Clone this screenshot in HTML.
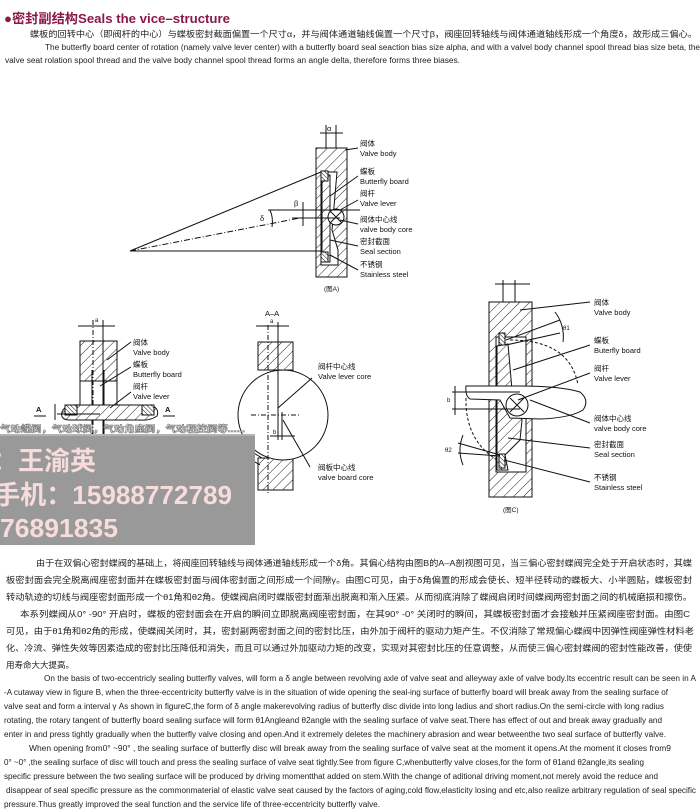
<!DOCTYPE html>
<html><head><meta charset="utf-8"><style>
html,body{margin:0;padding:0;background:#fff;}
svg{display:block;}
</style></head><body>
<svg width="700" height="810" viewBox="0 0 700 810" xmlns="http://www.w3.org/2000/svg" font-family="'Liberation Sans','Noto Sans CJK SC',sans-serif">
<defs>
<pattern id="h" width="7" height="7" patternUnits="userSpaceOnUse" patternTransform="rotate(45)">
<rect width="7" height="7" fill="#fff"/><line x1="0" y1="0" x2="0" y2="7" stroke="#222" stroke-width="1"/>
</pattern>
<pattern id="hs" width="3" height="3" patternUnits="userSpaceOnUse" patternTransform="rotate(-45)">
<rect width="3" height="3" fill="#fff"/><line x1="0" y1="0" x2="0" y2="3" stroke="#111" stroke-width="1"/>
</pattern>
</defs>

<!-- Header -->
<text x="4" y="23" font-size="13" font-weight="bold" fill="#8a1848" textLength="226" lengthAdjust="spacingAndGlyphs">●密封副结构Seals the vice–structure</text>
<text x="30" y="37" font-size="8.5" fill="#222" textLength="667" lengthAdjust="spacingAndGlyphs">蝶板的回转中心（即阀杆的中心）与蝶板密封截面偏置一个尺寸α，并与阀体通道轴线偏置一个尺寸β，阀座回转轴线与阀体通道轴线形成一个角度δ，故形成三偏心。</text>
<text x="45" y="50" font-size="8" fill="#222" textLength="655" lengthAdjust="spacingAndGlyphs">The butterfly board center of rotation (namely valve lever center) with a butterfly board seal seaction bias size alpha, and with a valvel body channel spool thread bias size beta, the</text>
<text x="5" y="63" font-size="8" fill="#222" textLength="455" lengthAdjust="spacingAndGlyphs">valve seat rolation spool thread and the valve body channel spool thread forms an angle delta, therefore forms three biases.</text>

<g stroke="#111" fill="none" stroke-width="1">
<!-- Figure A -->
<rect x="316" y="148" width="31" height="129" fill="url(#h)"/>
<path d="M321 172 L337 172 L332 230 L338 250 L338 265 L321 265 Z" fill="#fff"/>
<path d="M322 175 L330 175 L330 262 L322 262 Z" fill="url(#h)"/>
<rect x="321" y="171" width="7" height="10" fill="url(#hs)"/>
<rect x="321" y="252" width="7" height="10" fill="url(#hs)"/>
<circle cx="336" cy="217" r="8" fill="#fff"/>
<path d="M330 211 L342 223 M342 211 L330 223"/>
<line x1="326" y1="125" x2="326" y2="148"/><line x1="336" y1="125" x2="336" y2="148"/>
<line x1="320" y1="133" x2="343" y2="133"/>
<line x1="130" y1="251" x2="321" y2="172"/>
<line x1="130" y1="251" x2="321" y2="251"/>
<line x1="130" y1="251" x2="300" y2="218" stroke-dasharray="6 2 1 2"/>
<line x1="268" y1="210" x2="360" y2="210"/>
<line x1="292" y1="218" x2="340" y2="218"/>
<line x1="303" y1="202" x2="303" y2="226"/>
<path d="M270 210 A30 30 0 0 1 272 227"/>
<line x1="345" y1="150" x2="358" y2="148"/>
<line x1="330" y1="196" x2="358" y2="176"/>
<line x1="340" y1="210" x2="358" y2="200"/>
<line x1="340" y1="220" x2="358" y2="224"/>
<line x1="330" y1="240" x2="358" y2="246"/>
<line x1="330" y1="255" x2="358" y2="270"/>

<!-- Figure B -->
<rect x="80" y="341" width="37" height="40" fill="url(#h)"/>
<line x1="80" y1="341" x2="80" y2="405"/><line x1="117" y1="341" x2="117" y2="405"/>
<line x1="92" y1="370" x2="92" y2="490"/><line x1="104" y1="370" x2="104" y2="490"/>
<line x1="93" y1="320" x2="93" y2="500" stroke-dasharray="5 2 1 2"/>
<line x1="103" y1="320" x2="103" y2="490"/>
<line x1="78" y1="326" x2="115" y2="326"/>
<path d="M62 412 Q65 404 80 405 L150 405 Q160 408 157 416 Q150 421 140 420 L70 420 Q60 420 62 412 Z" fill="url(#h)"/>
<rect x="65" y="405" width="12" height="10" fill="url(#hs)"/>
<rect x="142" y="405" width="12" height="10" fill="url(#hs)"/>
<line x1="57" y1="414" x2="100" y2="414"/>
<line x1="55" y1="404" x2="55" y2="420"/>
<line x1="82" y1="460" x2="115" y2="460"/><line x1="82" y1="460" x2="82" y2="490"/>
<line x1="115" y1="460" x2="115" y2="490"/>
<line x1="107" y1="360" x2="131" y2="342"/>
<line x1="100" y1="386" x2="131" y2="367"/>
<line x1="110" y1="408" x2="131" y2="392"/>
<line x1="34" y1="416" x2="46" y2="416"/><line x1="163" y1="416" x2="175" y2="416"/>

<!-- Figure A-A -->
<rect x="258" y="342" width="35" height="28" fill="url(#h)"/>
<rect x="258" y="458" width="35" height="32" fill="url(#h)"/>
<circle cx="283" cy="415" r="45" fill="#fff"/>
<line x1="268" y1="325" x2="268" y2="495" stroke-dasharray="5 2 1 2"/>
<line x1="278" y1="322" x2="278" y2="440"/>
<line x1="256" y1="326" x2="289" y2="326"/>
<line x1="251" y1="415" x2="300" y2="415" stroke-dasharray="5 2 1 2"/>
<line x1="282" y1="412" x2="282" y2="440"/>
<line x1="270" y1="436" x2="295" y2="436"/>
<line x1="278" y1="408" x2="312" y2="378"/>
<line x1="283" y1="420" x2="310" y2="467"/>
<line x1="232" y1="440" x2="262" y2="458"/><line x1="230" y1="447" x2="260" y2="465"/>

<!-- Figure C -->
<rect x="489" y="302" width="43" height="195" fill="url(#h)"/>
<rect x="496" y="337" width="30" height="135" fill="#fff"/>
<path d="M497 346 L508 344 L512 390 L522 420 L520 440 L505 455 L508 470 L497 470 Z" fill="url(#h)"/>
<rect x="499" y="333" width="6" height="12" fill="url(#hs)"/>
<rect x="499" y="454" width="6" height="14" fill="url(#hs)"/>
<path d="M466 386 Q465 396 470 399 L500 400 L510 418 L540 419 Q570 418 583 410 Q590 400 580 392 Q560 386 520 386 Z" fill="#fff"/>
<circle cx="517" cy="405" r="11" fill="#fff"/>
<path d="M510 398 L524 412 M524 398 L510 412"/>
<line x1="503" y1="280" x2="503" y2="302"/><line x1="515" y1="280" x2="515" y2="302"/>
<line x1="495" y1="284" x2="530" y2="284"/>
<line x1="452" y1="392" x2="520" y2="392"/><line x1="452" y1="409" x2="520" y2="409"/>
<line x1="455" y1="386" x2="455" y2="415"/>
<path d="M510 340 Q570 340 578 385" stroke-dasharray="3 2"/>
<path d="M466 398 Q465 440 497 460" stroke-dasharray="3 2"/>
<line x1="506" y1="340" x2="560" y2="320"/><line x1="506" y1="345" x2="560" y2="333"/>
<path d="M555 312 A40 40 0 0 1 563 342"/>
<line x1="458" y1="443" x2="500" y2="455"/><line x1="458" y1="453" x2="500" y2="456"/>
<path d="M463 435 A40 40 0 0 0 463 465"/>
<line x1="520" y1="310" x2="590" y2="302"/>
<line x1="513" y1="370" x2="590" y2="345"/>
<line x1="518" y1="400" x2="590" y2="373"/>
<line x1="530" y1="400" x2="590" y2="423"/>
<line x1="508" y1="438" x2="590" y2="448"/>
<line x1="504" y1="460" x2="590" y2="482"/>
</g>

<g font-size="7.5" fill="#111">
<text x="327" y="131">α</text>
<text x="360" y="146">阀体</text><text x="360" y="156">Valve body</text>
<text x="360" y="174">蝶板</text><text x="360" y="184">Butterfly board</text>
<text x="360" y="196">阀杆</text><text x="360" y="206">Valve lever</text>
<text x="360" y="222">阀体中心线</text><text x="360" y="232">valve body core</text>
<text x="360" y="244">密封截面</text><text x="360" y="254">Seal section</text>
<text x="360" y="267">不锈钢</text><text x="360" y="277">Stainless steel</text>
<text x="294" y="206">β</text><text x="260" y="221">δ</text>
<text x="324" y="291" font-size="6.5">(图A)</text>

<text x="95" y="322" font-size="6">a</text>
<text x="133" y="345">阀体</text><text x="133" y="355">Valve body</text>
<text x="133" y="367">蝶板</text><text x="133" y="377">Butterfly board</text>
<text x="133" y="389">阀杆</text><text x="133" y="399">Valve lever</text>
<text x="135" y="443">阀体中心线</text><text x="135" y="453">valve body core</text>
<text x="138" y="471">密封截面</text><text x="138" y="481">Seal section</text>
<text x="36" y="412" font-weight="bold">A</text><text x="165" y="412" font-weight="bold">A</text>

<text x="265" y="316">A–A</text>
<text x="270" y="323" font-size="6">a</text>
<text x="273" y="434" font-size="6">b</text>
<text x="221" y="459" font-size="6">γ</text>
<text x="318" y="369">阀杆中心线</text><text x="318" y="379">Valve lever core</text>
<text x="318" y="470">阀板中心线</text><text x="318" y="480">valve board core</text>

<text x="594" y="305">阀体</text><text x="594" y="315">Valve body</text>
<text x="594" y="343">蝶板</text><text x="594" y="353">Buterfly board</text>
<text x="594" y="371">阀杆</text><text x="594" y="381">Valve lever</text>
<text x="594" y="421">阀体中心线</text><text x="594" y="431">valve body core</text>
<text x="594" y="447">密封截面</text><text x="594" y="457">Seal section</text>
<text x="594" y="480">不锈钢</text><text x="594" y="490">Stainless steel</text>
<text x="563" y="330" font-size="6">θ1</text>
<text x="445" y="452" font-size="6">θ2</text>
<text x="447" y="402" font-size="6">b</text>
<text x="503" y="512" font-size="6.5">(图C)</text>
</g>

<!-- watermark -->
<text x="0" y="432" font-size="9" font-weight="bold" fill="#fff" stroke="#777" stroke-width="0.6" textLength="245" lengthAdjust="spacingAndGlyphs">气动蝶阀，气动球阀，气动角座阀，气动程控阀等......</text>
<rect x="0" y="434" width="255" height="111" fill="#999"/>
<line x1="0" y1="435" x2="255" y2="435" stroke="#ccc" stroke-width="1"/>
<g font-weight="bold" font-size="26" fill="#f8dcdc">
<text x="-8" y="470">：王渝英</text>
<text x="-6" y="504" textLength="238" lengthAdjust="spacingAndGlyphs">手机：15988772789</text>
<text x="0" y="537" textLength="118" lengthAdjust="spacingAndGlyphs">76891835</text>
</g>

<!-- Chinese paragraph -->
<g font-size="8.5" fill="#222">
<text x="36" y="566" textLength="656" lengthAdjust="spacingAndGlyphs">由于在双偏心密封蝶阀的基础上，将阀座回转轴线与阀体通道轴线形成一个δ角。其偏心结构由图B的A–A剖视图可见，当三偏心密封蝶阀完全处于开启状态时，其蝶</text>
<text x="6" y="583" textLength="686" lengthAdjust="spacingAndGlyphs">板密封面会完全脱离阀座密封面并在蝶板密封面与阀体密封面之间形成一个间隙γ。由图C可见，由于δ角偏置的形成会使长、短半径转动的蝶板大、小半圆贴，蝶板密封</text>
<text x="6" y="600" textLength="686" lengthAdjust="spacingAndGlyphs">转动轨迹的切线与阀座密封面形成一个θ1角和θ2角。使蝶阀启闭时蝶版密封面渐出脱离和渐入压紧。从而彻底消除了蝶阀启闭时间蝶阀两密封面之间的机械磨损和擦伤。</text>
<text x="20" y="617" textLength="670" lengthAdjust="spacingAndGlyphs">本系列蝶阀从0° -90° 开启时，蝶板的密封面会在开启的瞬间立即脱离阀座密封面，在其90° -0° 关闭时的瞬间，其蝶板密封面才会接触并压紧阀座密封面。由图C</text>
<text x="6" y="634" textLength="688" lengthAdjust="spacingAndGlyphs">可见，由于θ1角和θ2角的形成，使蝶阀关闭时，其，密封副两密封面之间的密封比压，由外加于阀杆的驱动力矩产生。不仅消除了常规偏心蝶阀中因弹性阀座弹性材料老</text>
<text x="6" y="651" textLength="686" lengthAdjust="spacingAndGlyphs">化、冷流、弹性失效等因素造成的密封比压降低和消失，而且可以通过外加驱动力矩的改变，实现对其密封比压的任意调整，从而使三偏心密封蝶阀的密封性能改善，使使</text>
<text x="6" y="668">用寿命大大提高。</text>
</g>

<!-- English paragraph -->
<g font-size="8" fill="#222">
<text x="44" y="681" textLength="652" lengthAdjust="spacingAndGlyphs">On the basis of two-eccentricly sealing butterfly valves, will form a δ angle between revolving axle of valve seat and alleyway axle of valve body.Its eccentric result can be seen in A</text>
<text x="4" y="695" textLength="664" lengthAdjust="spacingAndGlyphs">-A cutaway view in figure B, when the three-eccentricity butterfly valve is in the situation of wide opening the seal-ing surface of butterfly board will break away from the sealing surface of</text>
<text x="4" y="709" textLength="660" lengthAdjust="spacingAndGlyphs">valve seat and form a interval γ As shown in figureC,the form of δ angle makerevolving radius of butterfly disc divide into long ladius and short radius.On the semi-circle with long radius</text>
<text x="4" y="723" textLength="658" lengthAdjust="spacingAndGlyphs">rotating, the rotary tangent of butterfly board sealing surface will form θ1Angleand θ2angle with the sealing surface of valve seat.There has effect of out and break away gradually and</text>
<text x="4" y="737" textLength="662" lengthAdjust="spacingAndGlyphs">enter in and press tightly gradually when the butterfly valve closing and open.And it extremely deletes the machinery abrasion and wear betweenthe two seal surface of butterfly valve.</text>
<text x="29" y="751" textLength="642" lengthAdjust="spacingAndGlyphs">When opening from0° ~90° , the sealing surface of butterfly disc will break away from the sealing surface of valve seat at the moment it opens.At the moment it closes from9</text>
<text x="4" y="765" textLength="640" lengthAdjust="spacingAndGlyphs">0° ~0° ,the sealing surface of disc will touch and press the sealing surface of valve seat tightly.See from figure C,whenbutterfly valve closes,for the form of θ1and θ2angle,its sealing</text>
<text x="4" y="779" textLength="654" lengthAdjust="spacingAndGlyphs">specific pressure between the two sealing surface will be produced by driving momentthat added on stem.With the change of aditional driving moment,not merely avoid the reduce and</text>
<text x="6" y="793" textLength="690" lengthAdjust="spacingAndGlyphs">disappear of seal specific pressure as the commonmaterial of elastic valve seat caused by the factors of aging,cold flow,elasticity losing and etc,also realize arbitrary regulation of seal specific</text>
<text x="4" y="807" textLength="376" lengthAdjust="spacingAndGlyphs">pressure.Thus greatly improved the seal function and the service life of three-eccentricity butterfly valve.</text>
</g>
</svg>
</body></html>
